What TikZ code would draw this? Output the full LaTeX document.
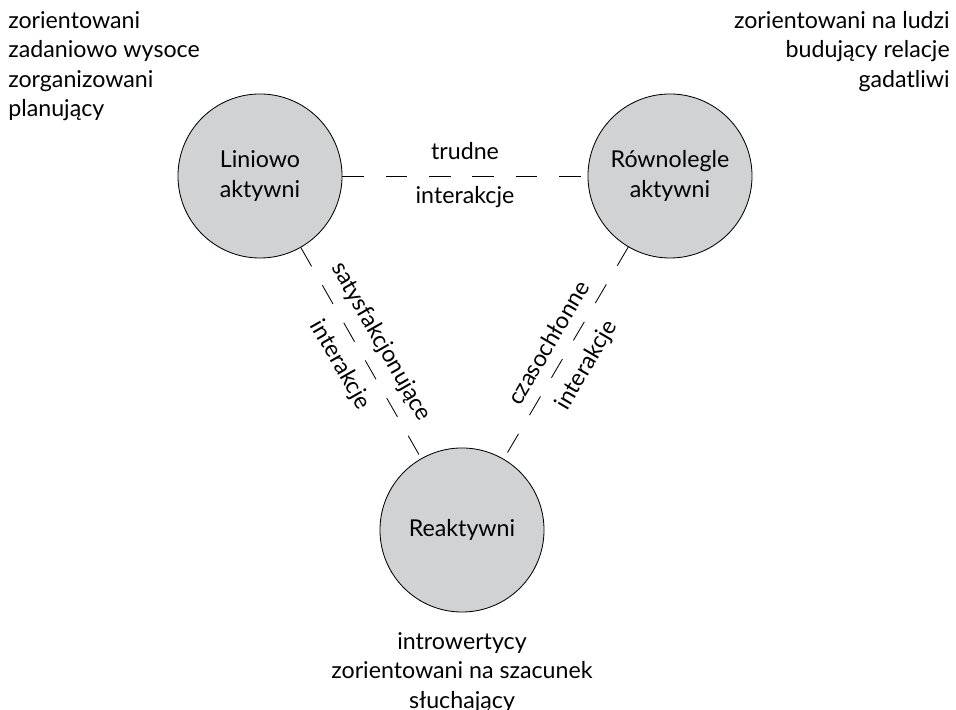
\documentclass[tikz,border=0pt]{standalone}
\usepackage{fontspec}
\setmainfont{Lato}
\definecolor{circlegray}{RGB}{209,210,212}

\begin{document}
\begin{tikzpicture}[x=0.025cm, y=0.025cm, font=\fontsize{16.5}{21}\selectfont,
    person/.style={circle, draw=black, line width=0.6pt, fill=circlegray, minimum size=4.1cm, inner sep=0pt, align=center},
    link/.style={line width=0.6pt, dash pattern=on 15.4pt off 15.4pt},
    note/.style={inner sep=0pt}]
  \useasboundingbox (0,0) rectangle (956,710);
  % the three types
  \node[person] (lin) at (260,534) {Liniowo\\aktywni};
  \node[person] (row) at (670,534) {Równolegle\\aktywni};
  \node[person] (rea) at (462,180) {Reaktywni};
  % interactions
  \draw[link] (lin) -- (row) node[midway, above=8pt] {trudne} node[midway, below=4pt] {interakcje};
  \draw[link] (lin) -- (rea) node[midway, sloped, above=5pt] {satysfakcjonujące} node[midway, sloped, below=6pt] {interakcje};
  \draw[link] (row) -- (rea) node[midway, sloped, above=5pt] {czasochłonne} node[midway, sloped, below=6pt] {interakcje};
  % descriptions
  \node[note, anchor=north west, align=left] (linnote) at (8,699) {zorientowani\\zadaniowo wysoce\\zorganizowani\\planujący};
  \node[note, anchor=north east, align=right] (rownote) at (950,699) {zorientowani na ludzi\\budujący relacje\\gadatliwi};
  \node[note, anchor=north, align=center] (reanote) at (462,78) {introwertycy\\zorientowani na szacunek\\słuchający};
\end{tikzpicture}
\end{document}
